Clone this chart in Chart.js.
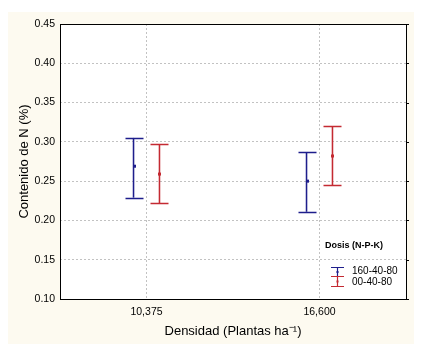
<!DOCTYPE html>
<html>
<head>
<meta charset="utf-8">
<script src="https://cdn.jsdelivr.net/npm/chart.js@4.4.1/dist/chart.umd.min.js"></script>
<style>
  html, body { margin: 0; padding: 0; background: #ffffff; }
  #wrap { width: 426px; height: 355px; }
</style>
</head>
<body>
<div id="wrap"><canvas id="c" width="426" height="355"></canvas></div>
<script>
// ---- data ----
const categories = ['10,375', '16,600'];
const seriesNames = ['160-40-80', '00-40-80'];
const mean160 = [0.269, 0.250];
const low160  = [0.229, 0.211];
const high160 = [0.305, 0.287];
const mean00  = [0.259, 0.282];
const low00   = [0.222, 0.245];
const high00  = [0.297, 0.320];
const yMin = 0.10, yMax = 0.45, yStep = 0.05;
const legendTitle = 'Dosis (N-P-K)';
const xTitle = 'Densidad (Plantas ha\u207B\u00B9)';
const yTitle = 'Contenido de N (%)';

const FONT = "'Liberation Sans', Arial, sans-serif";
const BLUE = '#1e1e8c';
const RED = '#c42a32';
const CAP = 9;

const means = [mean160, mean00];
const colors = [BLUE, RED];

const decorPlugin = {
  id: 'decor',
  beforeDraw(chart) {
    const ctx = chart.ctx, a = chart.chartArea;
    ctx.save();
    ctx.fillStyle = '#fdfaf0';
    ctx.fillRect(8, 12, 406, 332);
    ctx.fillStyle = '#ffffff';
    ctx.fillRect(a.left, a.top, a.right - a.left, a.bottom - a.top);
    ctx.restore();
  },
  afterDatasetsDraw(chart) {
    const ctx = chart.ctx, a = chart.chartArea, ys = chart.scales.y;
    ctx.save();
    // caps and means
    chart.data.datasets.forEach((ds, di) => {
      const meta = chart.getDatasetMeta(di);
      meta.data.forEach((bar, i) => {
        const x = Math.round(bar.x) + 0.5;
        const lo = ys.getPixelForValue(ds.data[i][0]);
        const hi = ys.getPixelForValue(ds.data[i][1]);
        ctx.strokeStyle = colors[di];
        ctx.lineWidth = 1.4;
        ctx.beginPath();
        ctx.moveTo(x - CAP, Math.round(hi) + 0.5); ctx.lineTo(x + CAP, Math.round(hi) + 0.5);
        ctx.moveTo(x - CAP, Math.round(lo) + 0.5); ctx.lineTo(x + CAP, Math.round(lo) + 0.5);
        ctx.stroke();
        const my = ys.getPixelForValue(means[di][i]);
        ctx.fillStyle = colors[di];
        ctx.fillRect(x - 1.5, my - 1.5, 3, 3);
      });
    });
    // frame
    ctx.strokeStyle = '#000000';
    ctx.lineWidth = 1;
    ctx.strokeRect(Math.round(a.left) + 0.5, Math.round(a.top) + 0.5,
                   Math.round(a.right - a.left), Math.round(a.bottom - a.top));
    // small outward ticks on right side
    ys.ticks.forEach((t, i) => {
      const y = Math.round(ys.getPixelForTick(i)) + 0.5;
      ctx.beginPath();
      ctx.moveTo(a.right, y); ctx.lineTo(a.right + 3, y);
      ctx.stroke();
    });
    // legend
    ctx.fillStyle = '#000000';
    ctx.font = 'bold 9px ' + FONT;
    ctx.textBaseline = 'middle';
    ctx.textAlign = 'left';
    ctx.fillText(legendTitle, 325, 246);
    const items = [[267, 276, 271.5], [276, 286, 282.5]];
    items.forEach((it, k) => {
      const cx = 337.5;
      ctx.strokeStyle = colors[k];
      ctx.fillStyle = colors[k];
      ctx.lineWidth = 1.2;
      ctx.beginPath();
      ctx.moveTo(cx - 6.5, it[0] + 0.5); ctx.lineTo(cx + 6.5, it[0] + 0.5);
      ctx.moveTo(cx, it[0] + 0.5); ctx.lineTo(cx, it[1] + 0.5);
      ctx.moveTo(cx - 6.5, it[1] + 0.5); ctx.lineTo(cx + 6.5, it[1] + 0.5);
      ctx.stroke();
      ctx.fillRect(cx - 1, (it[0] + it[1]) / 2 - 0.5, 2, 2);
      ctx.fillStyle = '#000000';
      ctx.font = '10px ' + FONT;
      ctx.fillText(seriesNames[k], 352, it[2]);
    });
    ctx.restore();
  }
};

new Chart(document.getElementById('c'), {
  type: 'bar',
  data: {
    labels: categories,
    datasets: [
      { label: seriesNames[0], data: categories.map((_, i) => [low160[i], high160[i]]),
        backgroundColor: BLUE, borderWidth: 0 },
      { label: seriesNames[1], data: categories.map((_, i) => [low00[i], high00[i]]),
        backgroundColor: RED, borderWidth: 0 }
    ]
  },
  options: {
    responsive: false,
    animation: false,
    events: [],
    categoryPercentage: 0.30,
    barPercentage: 0.06,
    layout: { padding: { left: 0, right: 20, top: 24, bottom: 0 } },
    plugins: { legend: { display: false }, tooltip: { enabled: false } },
    scales: {
      x: {
        offset: true,
        afterFit: s => { s.height = 56; },
        grid: { offset: false, color: '#c2c2c2', lineWidth: 1, drawTicks: false },
        border: { display: false, dash: [2, 2] },
        ticks: { color: '#000', padding: 7, font: { family: FONT, size: 10.5 } },
        title: { display: true, text: xTitle, color: '#000',
                 font: { family: FONT, size: 13 }, padding: { top: 0, bottom: 16 } }
      },
      y: {
        min: yMin, max: yMax,
        afterFit: s => { s.width = 60; },
        grid: { color: '#c2c2c2', lineWidth: 1, drawTicks: false },
        border: { display: false, dash: [2, 2] },
        ticks: { stepSize: yStep, color: '#000', padding: 5,
                 font: { family: FONT, size: 10.5 },
                 callback: v => Number(v).toFixed(2) },
        title: { display: true, text: yTitle, color: '#000',
                 font: { family: FONT, size: 13 }, padding: { top: 17, bottom: 0 } }
      }
    }
  },
  plugins: [decorPlugin]
});
</script>
</body>
</html>
